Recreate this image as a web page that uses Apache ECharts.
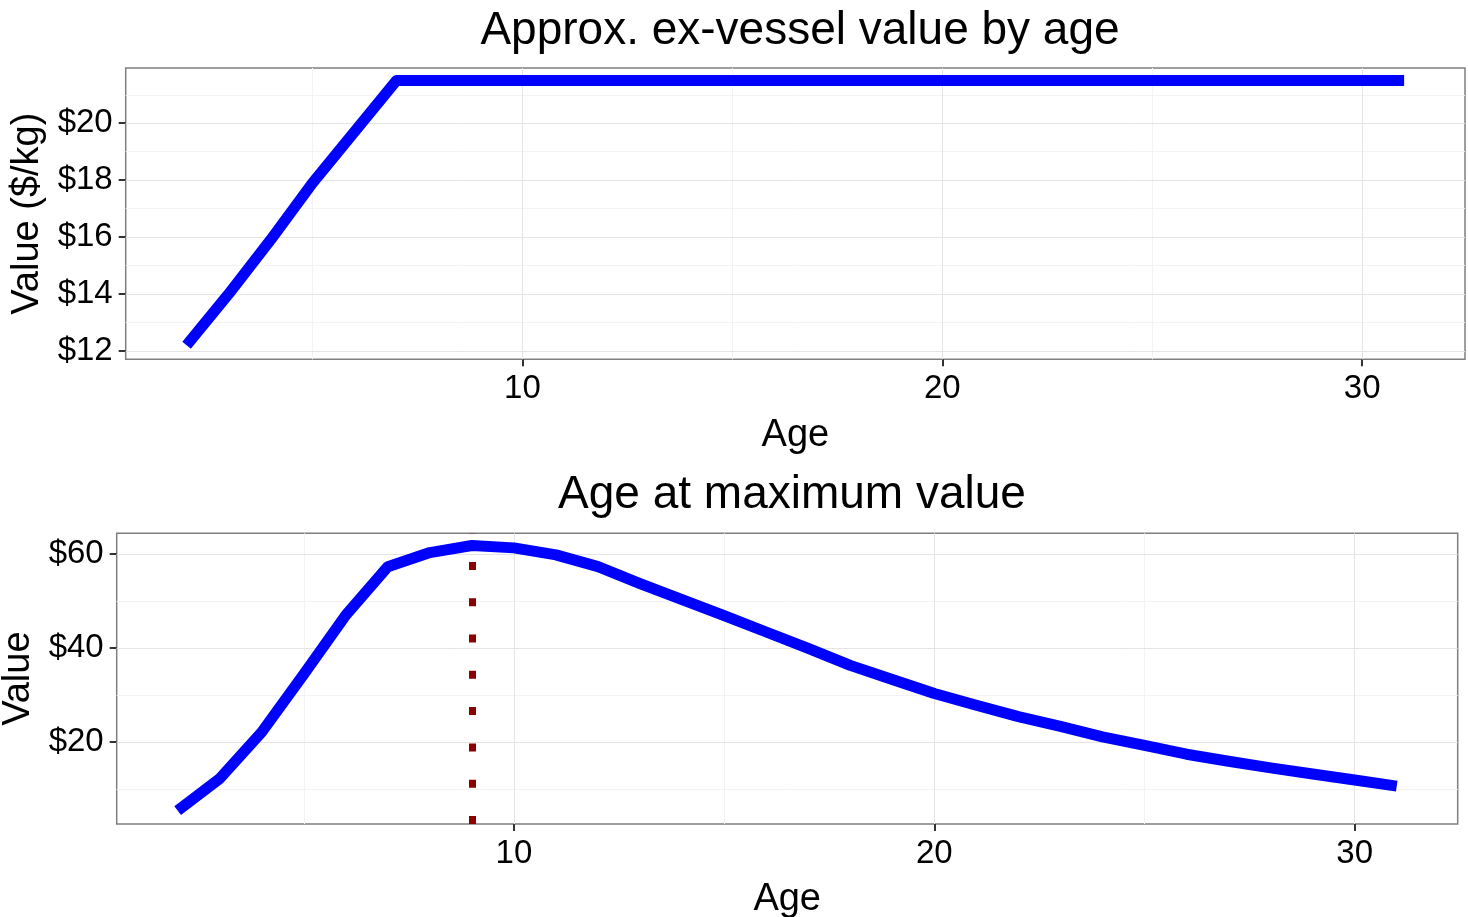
<!DOCTYPE html>
<html>
<head>
<meta charset="utf-8">
<script src="https://cdn.jsdelivr.net/npm/echarts@6/dist/echarts.min.js"></script>
<style>
  html, body { margin: 0; padding: 0; background: #fff; }
  #chart { width: 1468px; height: 917px; }
</style>
</head>
<body>
<div id="chart"></div>
<script>
// Ages shared by both panels
const ages = [2, 3, 4, 5, 6, 7, 8, 9, 10, 11, 12, 13, 14, 15, 16, 17, 18, 19, 20,
              21, 22, 23, 24, 25, 26, 27, 28, 29, 30, 31];

// Ex-vessel price per kg by age
const pricePerKg = [12.2, 14.0, 15.9, 17.9, 19.7, 21.5, 21.5, 21.5, 21.5, 21.5,
                    21.5, 21.5, 21.5, 21.5, 21.5, 21.5, 21.5, 21.5, 21.5, 21.5,
                    21.5, 21.5, 21.5, 21.5, 21.5, 21.5, 21.5, 21.5, 21.5, 21.5];

// Total value per fish by age
const valueByAge = [5.4, 12.2, 22.1, 34.4, 47.0, 57.3, 60.3, 61.8, 61.3, 59.8,
                    57.3, 53.7, 50.3, 46.9, 43.4, 39.9, 36.3, 33.3, 30.3, 27.8,
                    25.4, 23.3, 21.1, 19.3, 17.4, 15.9, 14.5, 13.2, 11.9, 10.6];

// Age at which value peaks
const peakAge = [9];

// Tick positions
const xMajorTicks = [10, 20, 30];
const xMinorTicks = [5, 15, 25];
const topYMajorTicks = [12, 14, 16, 18, 20];
const topYMinorTicks = [13, 15, 17, 19, 21];
const botYMajorTicks = [20, 40, 60];
const botYMinorTicks = [10, 30, 50];

const FONT = '"Liberation Sans", Arial, sans-serif';
const xRange = [0.55, 32.45];
const topYRange = [11.71, 21.94];
const botYRange = [2.55, 64.4];

const dollar = v => '$' + v;

function gridLines(xs, ys, color) {
  return xs.map(v => ({ xAxis: v, lineStyle: { color, width: 1, type: 'solid' } }))
    .concat(ys.map(v => ({ yAxis: v, lineStyle: { color, width: 1, type: 'solid' } })));
}

function gridSeries(idx, xMaj, xMin, yMaj, yMin) {
  return {
    type: 'line', xAxisIndex: idx, yAxisIndex: idx, data: [], silent: true, z: 1,
    markLine: {
      silent: true, symbol: 'none', label: { show: false }, animation: false, z: 1,
      emphasis: { disabled: true },
      data: gridLines(xMin, yMin, '#f3f3f3').concat(gridLines(xMaj, yMaj, '#e4e4e4'))
    }
  };
}

function xAxisDef(gridIndex) {
  return {
    type: 'value', gridIndex, min: xRange[0], max: xRange[1],
    name: 'Age', nameLocation: 'middle', nameGap: 57,
    nameTextStyle: { fontSize: 38, color: '#000', fontFamily: FONT },
    axisLine: { show: false },
    axisTick: { show: true, length: 7, customValues: xMajorTicks, lineStyle: { color: '#333', width: 2 } },
    axisLabel: { customValues: xMajorTicks, fontSize: 33, color: '#000', fontFamily: FONT, margin: 13 },
    splitLine: { show: false }
  };
}

function yAxisDef(gridIndex, range, ticks, name, gap) {
  return {
    type: 'value', gridIndex, min: range[0], max: range[1],
    name, nameLocation: 'middle', nameGap: gap,
    nameTextStyle: { fontSize: 38, color: '#000', fontFamily: FONT },
    axisLine: { show: false },
    axisTick: { show: true, length: 7, customValues: ticks, lineStyle: { color: '#333', width: 2 } },
    axisLabel: { customValues: ticks, formatter: dollar, fontSize: 33, color: '#000', fontFamily: FONT, margin: 13 },
    splitLine: { show: false }
  };
}

const chart = echarts.init(document.getElementById('chart'), null, { renderer: 'canvas' });

chart.setOption({
  animation: false,
  backgroundColor: '#fff',
  title: [
    { text: 'Approx. ex-vessel value by age', left: 795, top: 3, textAlign: 'center',
      textStyle: { fontSize: 46, fontWeight: 'normal', color: '#000', fontFamily: FONT } },
    { text: 'Age at maximum value', left: 787, top: 467, textAlign: 'center',
      textStyle: { fontSize: 46, fontWeight: 'normal', color: '#000', fontFamily: FONT } }
  ],
  grid: [
    { left: 125.7, top: 68, width: 1339.3, height: 291.3, show: true, outerBoundsMode: 'none',
      borderColor: '#7f7f7f', borderWidth: 1.5, backgroundColor: '#fff' },
    { left: 116.7, top: 533.3, width: 1341, height: 290.7, show: true, outerBoundsMode: 'none',
      borderColor: '#7f7f7f', borderWidth: 1.5, backgroundColor: '#fff' }
  ],
  xAxis: [xAxisDef(0), xAxisDef(1)],
  yAxis: [
    yAxisDef(0, topYRange, topYMajorTicks, 'Value ($/kg)', 78),
    yAxisDef(1, botYRange, botYMajorTicks, 'Value', 77)
  ],
  series: [
    gridSeries(0, xMajorTicks, xMinorTicks, topYMajorTicks, topYMinorTicks),
    gridSeries(1, xMajorTicks, xMinorTicks, botYMajorTicks, botYMinorTicks),
    {
      // Peak-age marker
      type: 'line', xAxisIndex: 1, yAxisIndex: 1, data: [], silent: true, z: 2,
      markLine: {
        silent: true, symbol: 'none', label: { show: false }, animation: false, z: 2,
        data: peakAge.map(a => ({ xAxis: a })),
        lineStyle: { color: '#8b0000', width: 7, type: [8, 28.3], cap: 'butt' }
      }
    },
    {
      type: 'line', xAxisIndex: 0, yAxisIndex: 0, z: 10,
      data: ages.map((a, i) => [a, pricePerKg[i]]),
      showSymbol: false, symbol: 'none',
      lineStyle: { color: '#0000ff', width: 11, join: 'round' }
    },
    {
      type: 'line', xAxisIndex: 1, yAxisIndex: 1, z: 10,
      data: ages.map((a, i) => [a, valueByAge[i]]),
      showSymbol: false, symbol: 'none',
      lineStyle: { color: '#0000ff', width: 11, join: 'round' }
    }
  ]
});
</script>
</body>
</html>
